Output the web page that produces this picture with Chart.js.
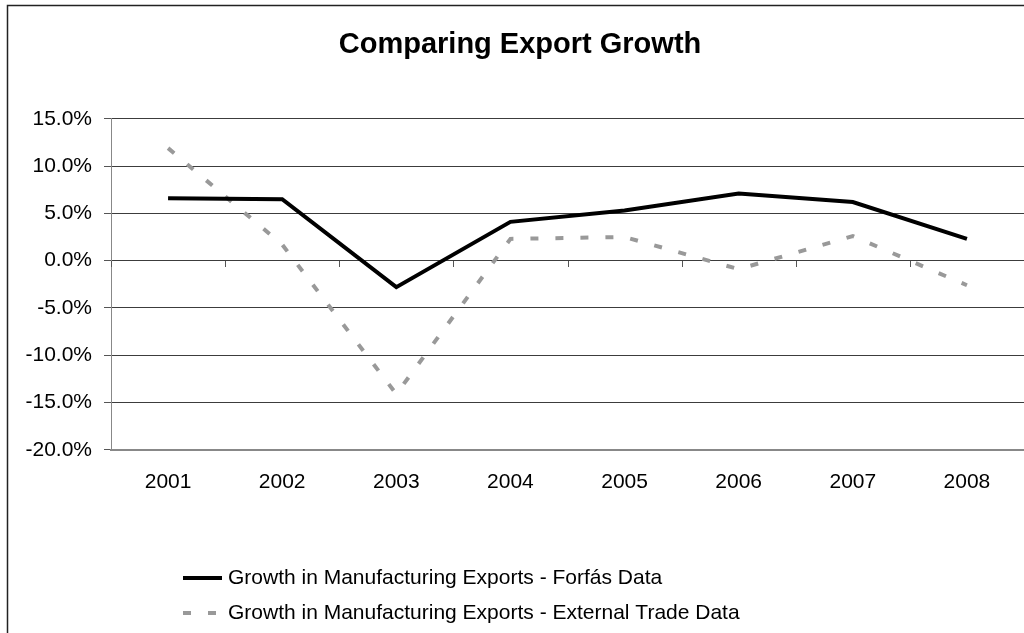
<!DOCTYPE html>
<html>
<head>
<meta charset="utf-8">
<script src="https://cdn.jsdelivr.net/npm/chart.js@4/dist/chart.umd.min.js"></script>
<style>
  html, body { margin: 0; padding: 0; background: #fff; }
  #wrap { width: 1024px; height: 633px; position: relative; }
</style>
</head>
<body>
<div id="wrap"><canvas id="c" width="1024" height="633"></canvas></div>
<script>
const chartTitle = 'Comparing Export Growth';
const categories = ['2001', '2002', '2003', '2004', '2005', '2006', '2007', '2008'];
const forfasLabel = 'Growth in Manufacturing Exports - Forfás Data';
const forfasValues = [6.6, 6.5, -2.8, 4.1, 5.3, 7.1, 6.2, 2.3];
const externalLabel = 'Growth in Manufacturing Exports - External Trade Data';
const externalValues = [11.9, 1.7, -14.1, 2.3, 2.5, -0.9, 2.6, -2.6];
const yMin = -20, yMax = 15, yStep = 5;

const FONT = "'Liberation Sans', Arial, sans-serif";

const framePlugin = {
  id: 'frame',
  beforeDraw(chart) {
    const ctx = chart.ctx;
    ctx.save();
    ctx.fillStyle = '#fff';
    ctx.fillRect(0, 0, chart.width, chart.height);
    ctx.strokeStyle = '#222';
    ctx.lineWidth = 1.5;
    ctx.strokeRect(7.5, 5.5, 1100, 700);
    ctx.restore();
  }
};

// category-boundary tick marks on the zero line (Excel style)
const zeroTicksPlugin = {
  id: 'zeroTicks',
  afterDatasetsDraw(chart) {
    const x = chart.scales.x, y = chart.scales.y;
    const y0 = Math.round(y.getPixelForValue(0));
    const ctx = chart.ctx;
    ctx.save();
    ctx.strokeStyle = '#555';
    ctx.lineWidth = 1;
    for (let i = 0; i <= categories.length; i++) {
      const px = Math.round(x.getPixelForValue(i - 0.5)) + 0.5;
      ctx.beginPath();
      ctx.moveTo(px, y0);
      ctx.lineTo(px, y0 + 6);
      ctx.stroke();
    }
    ctx.restore();
  }
};

const legendPlugin = {
  id: 'customLegend',
  afterDraw(chart) {
    const ctx = chart.ctx;
    const rows = [578, 613];
    ctx.save();
    ctx.font = '21px ' + FONT;
    ctx.textBaseline = 'middle';
    ctx.fillStyle = '#000';
    chart.data.datasets.forEach((ds, i) => {
      const yy = rows[i];
      ctx.strokeStyle = ds.borderColor;
      ctx.lineWidth = ds.borderWidth;
      ctx.setLineDash(ds.borderDash || []);
      ctx.beginPath();
      ctx.moveTo(183, yy);
      ctx.lineTo(222, yy);
      ctx.stroke();
      ctx.setLineDash([]);
      ctx.fillText(ds.label, 228, yy);
    });
    ctx.restore();
  }
};

new Chart(document.getElementById('c'), {
  type: 'line',
  data: {
    labels: categories,
    datasets: [
      {
        label: forfasLabel,
        data: forfasValues,
        borderColor: '#000',
        borderWidth: 4,
        pointRadius: 0,
        tension: 0,
        fill: false
      },
      {
        label: externalLabel,
        data: externalValues,
        borderColor: '#999',
        borderWidth: 4,
        borderDash: [8, 17],
        borderCapStyle: 'butt',
        pointRadius: 0,
        tension: 0,
        fill: false
      }
    ]
  },
  options: {
    responsive: false,
    animation: false,
    devicePixelRatio: 1,
    layout: { padding: { left: 16, right: 0, top: 0, bottom: 118 } },
    plugins: {
      legend: { display: false },
      tooltip: { enabled: false },
      title: {
        display: true,
        text: chartTitle,
        color: '#000',
        font: { family: FONT, size: 29, weight: 'bold' },
        padding: { top: 28, bottom: 56 }
      }
    },
    scales: {
      x: {
        offset: true,
        grid: { display: false, drawTicks: false, offset: true },
        border: { display: true, color: '#888', width: 2 },
        ticks: { color: '#000', font: { family: FONT, size: 21 }, padding: 20, maxRotation: 0 }
      },
      y: {
        min: yMin,
        max: yMax,
        afterFit(scale) { scale.width = 95; },
        ticks: {
          stepSize: yStep,
          color: '#000',
          font: { family: FONT, size: 21 },
          padding: 12,
          callback: v => v.toFixed(1) + '%'
        },
        grid: {
          color: ctx => (ctx.tick && ctx.tick.value === yMin) ? '#888' : '#3c3c3c',
          lineWidth: 1,
          drawTicks: true,
          tickLength: 7,
          tickColor: '#555'
        },
        border: { display: true, color: '#888', width: 1 }
      }
    }
  },
  plugins: [framePlugin, zeroTicksPlugin, legendPlugin]
});
</script>
</body>
</html>
